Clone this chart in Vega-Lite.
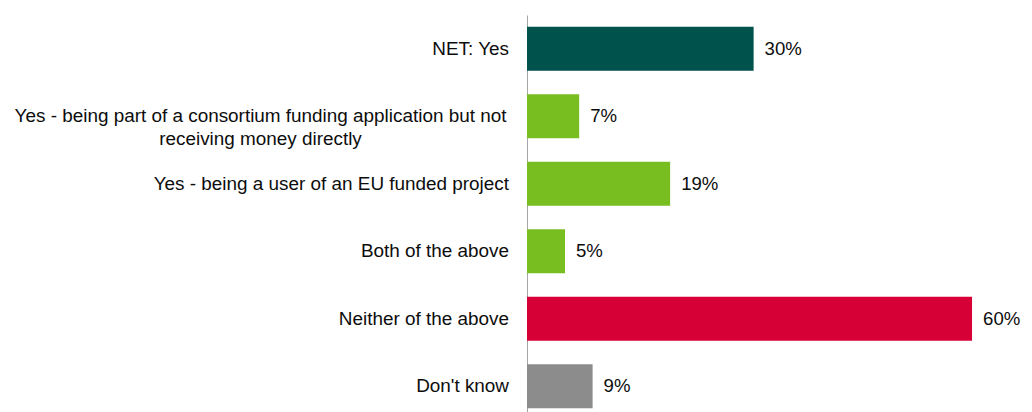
{
  "$schema": "https://vega.github.io/schema/vega-lite/v6.json",
  "width": 492,
  "height": 405,
  "autosize": {"type": "none"},
  "padding": {"left": 527, "top": 15, "right": 13, "bottom": 0},
  "background": "white",
  "config": {"view": {"stroke": null}, "font": "Liberation Sans"},
  "data": {
    "values": [
      {"label": "NET: Yes", "value": 0.304, "cat": "net"},
      {"label": "Yes - being part of a consortium funding application but not|receiving money directly", "value": 0.070, "cat": "yes"},
      {"label": "Yes - being a user of an EU funded project", "value": 0.192, "cat": "yes"},
      {"label": "Both of the above", "value": 0.051, "cat": "yes"},
      {"label": "Neither of the above", "value": 0.597, "cat": "no"},
      {"label": "Don't know", "value": 0.088, "cat": "dk"}
    ]
  },
  "encoding": {
    "y": {
      "field": "label",
      "type": "nominal",
      "sort": null,
      "scale": {"paddingInner": 0.35, "paddingOuter": 0.175},
      "axis": {
        "title": null,
        "ticks": false,
        "domainColor": "#a6a6a6",
        "domainWidth": 1,
        "labelFontSize": 18.9,
        "labelFont": "Liberation Sans",
        "labelColor": "#0d0d0d",
        "labelLimit": 600,
        "labelLineHeight": 23,
        "labelExpr": "split(datum.value, '|')",
        "labelPadding": {"condition": {"test": "indexof(datum.value, '|') >= 0", "value": 267}, "value": 18.5},
        "labelAlign": {"condition": {"test": "indexof(datum.value, '|') >= 0", "value": "center"}, "value": "right"}
      }
    },
    "x": {
      "field": "value",
      "type": "quantitative",
      "scale": {"domain": [0, 0.66]},
      "axis": null
    }
  },
  "layer": [
    {
      "mark": {"type": "bar"},
      "encoding": {
        "color": {
          "field": "cat",
          "type": "nominal",
          "scale": {"domain": ["net", "yes", "no", "dk"], "range": ["#00524C", "#78BE20", "#D70036", "#8C8C8C"]},
          "legend": null
        }
      }
    },
    {
      "mark": {"type": "text", "align": "left", "dx": 11, "fontSize": 18.6, "font": "Liberation Sans", "color": "#0d0d0d"},
      "encoding": {
        "text": {"field": "value", "type": "quantitative", "format": ".0%"}
      }
    }
  ]
}
